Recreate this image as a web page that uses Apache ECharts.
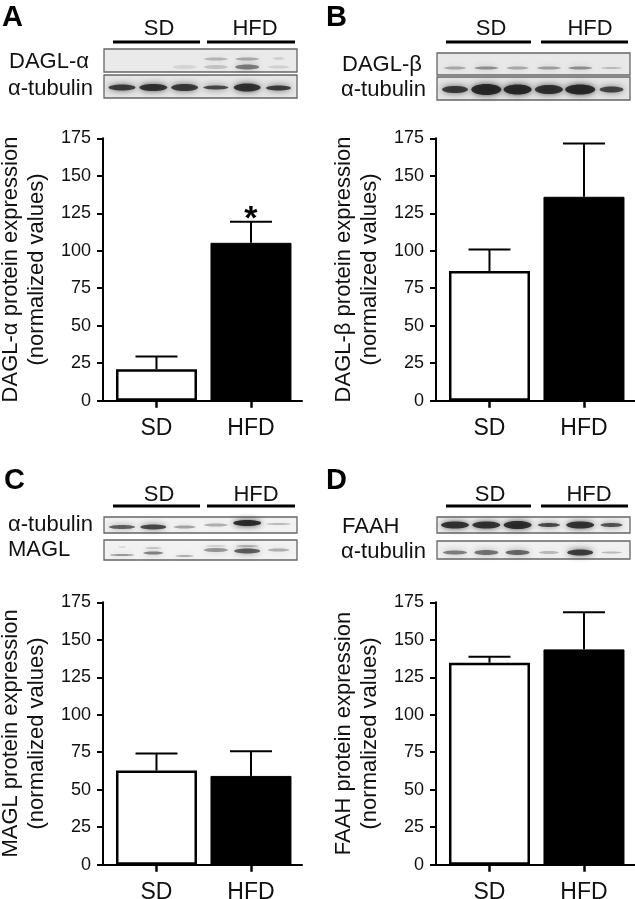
<!DOCTYPE html>
<html>
<head>
<meta charset="utf-8">
<script src="https://cdn.jsdelivr.net/npm/echarts@6/dist/echarts.min.js"></script>
<style>
  html, body { margin: 0; padding: 0; background: #fff; }
  #chart { width: 635px; height: 899px; }
</style>
</head>
<body>
<div id="chart"></div>
<script>
// groups on the x axis
const cats = ['SD', 'HFD'];

// means and SEM (normalized values)
const daglaMean = [21, 105.3];
const daglaErr = [8.4, 14];
const daglaSig = ['', '*'];

const daglbMean = [86.5, 136];
const daglbErr = [14.4, 35.6];
const daglbSig = ['', ''];

const maglMean = [62.8, 59.2];
const maglErr = [11.3, 16.5];
const maglSig = ['', ''];

const faahMean = [134.7, 143.6];
const faahErr = [4, 24.7];
const faahSig = ['', ''];

const FONT = '"Liberation Sans", Arial, Helvetica, sans-serif';

// panel layout: grid left/top, y title
const panels = [
  { left: 103, top: 138.3, title: 'DAGL-α protein expression\n(normalized values)', mean: daglaMean, err: daglaErr, sig: daglaSig },
  { left: 436, top: 138.3, title: 'DAGL-β protein expression\n(normalized values)', mean: daglbMean, err: daglbErr, sig: daglbSig },
  { left: 103, top: 602.3, title: 'MAGL protein expression\n(normalized values)', mean: maglMean, err: maglErr, sig: maglSig },
  { left: 436, top: 602.3, title: 'FAAH protein expression\n(normalized values)', mean: faahMean, err: faahErr, sig: faahSig }
];

// western blot strips (decorative): [lane, dy, opacity, width, height]
const blots = [
  { x: 104, y: 49, h: 23, bg: '#eaeaea', bands: [[2, 6.5, .1, 24, 4], [3, -1.5, .25, 24, 3], [3, 6.5, .18, 24, 4], [4, -1.5, .3, 24, 3], [4, 6.5, .5, 24, 5], [5, -2, .12, 12, 3], [5, 6.5, .12, 22, 3]] },
  { x: 104, y: 75, h: 23, bg: '#e6e6e6', bands: [[0, 1, .8, 27, 6], [1, 1, .85, 28, 7], [2, 1, .8, 27, 7], [3, 1, .75, 25, 4], [4, 1, .85, 27, 8], [5, 1.5, .8, 25, 5]] },
  { x: 437, y: 53, h: 22, bg: '#e8e8e8', bands: [[0, 4, .3, 22, 3], [1, 4, .42, 24, 3], [2, 4, .3, 22, 3], [3, 4, .35, 24, 3], [4, 4, .42, 24, 3], [5, 4, .22, 20, 2]] },
  { x: 437, y: 77, h: 23, bg: '#e4e4e4', bands: [[0, 1, .8, 26, 7], [1, 1, .9, 30, 11], [2, 1, .9, 28, 10], [3, 1, .85, 28, 9], [4, 1, .9, 30, 10], [5, 1, .75, 24, 6]] },
  { x: 104, y: 517, h: 16, bg: '#f2f2f2', bands: [[0, 2, .65, 26, 4], [1, 2, .75, 26, 5], [2, 2, .35, 22, 3], [3, 0, .3, 24, 3], [4, -2, .9, 28, 6], [5, -1, .25, 24, 2]] },
  { x: 104, y: 540, h: 20, bg: '#f2f2f2', bands: [[0, 5, .4, 24, 2], [0, -3, .1, 8, 2], [1, 3, .5, 20, 3], [1, -2, .18, 16, 2], [2, 6, .3, 18, 2], [3, 0, .4, 24, 4], [3, -4, .12, 20, 2], [4, 1, .65, 26, 5], [4, -4, .25, 22, 2], [5, 0, .3, 22, 3]] },
  { x: 437, y: 517, h: 16, bg: '#f0f0f0', bands: [[0, 0, .85, 28, 7], [1, 0, .85, 28, 7], [2, 0, .88, 28, 8], [3, 0, .75, 22, 4], [4, 0, .85, 28, 7], [5, 0, .7, 22, 4]] },
  { x: 437, y: 541, h: 18, bg: '#f0f0f0', bands: [[0, 2.5, .5, 24, 4], [1, 2.5, .55, 24, 5], [2, 2.5, .6, 24, 5], [3, 2.5, .25, 20, 3], [4, 2.5, .8, 26, 6], [5, 2.5, .25, 20, 2]] }
];

const blotLabels = [
  ['DAGL-α', 9, 62], ['α-tubulin', 8, 89],
  ['DAGL-β', 342, 65], ['α-tubulin', 341, 90],
  ['α-tubulin', 8, 525], ['MAGL', 8, 550],
  ['FAAH', 342, 527], ['α-tubulin', 341, 552]
];

const headers = [
  { y: 29, line: 42, sd: 159, hfd: 255, l1: [113, 200], l2: [207, 295] },
  { y: 29, line: 42, sd: 491, hfd: 590, l1: [446, 531], l2: [541, 628] },
  { y: 495, line: 506, sd: 159, hfd: 256, l1: [113, 200], l2: [207, 295] },
  { y: 495, line: 506, sd: 490, hfd: 589, l1: [446, 531], l2: [541, 628] }
];

const letters = [['A', 2, 3], ['B', 326, 3], ['C', 4, 466], ['D', 326, 466]];

let graphics = [];
letters.forEach(l => {
  graphics.push({ type: 'text', x: l[1], y: l[2], style: { text: l[0], font: 'bold 29px ' + FONT, fill: '#000', align: 'left', verticalAlign: 'top' } });
});
headers.forEach(h => {
  graphics.push({ type: 'text', x: h.sd, y: h.y, style: { text: 'SD', font: '22px ' + FONT, fill: '#111', align: 'center', verticalAlign: 'middle' } });
  graphics.push({ type: 'text', x: h.hfd, y: h.y, style: { text: 'HFD', font: '22px ' + FONT, fill: '#111', align: 'center', verticalAlign: 'middle' } });
  graphics.push({ type: 'line', shape: { x1: h.l1[0], y1: h.line, x2: h.l1[1], y2: h.line }, style: { stroke: '#000', lineWidth: 3 } });
  graphics.push({ type: 'line', shape: { x1: h.l2[0], y1: h.line, x2: h.l2[1], y2: h.line }, style: { stroke: '#000', lineWidth: 3 } });
});
blots.forEach(b => {
  graphics.push({ type: 'rect', shape: { x: b.x, y: b.y, width: 193, height: b.h }, style: { fill: b.bg, stroke: '#666', lineWidth: 1.3 } });
  b.bands.forEach(d => {
    let c = 'rgba(30,30,30,' + d[2] + ')';
    graphics.push({
      type: 'ellipse',
      shape: { cx: b.x + 18 + d[0] * 31.3, cy: b.y + b.h / 2 + d[1], rx: d[3] / 2, ry: d[4] / 2 },
      style: { fill: c, shadowBlur: 6, shadowColor: c }
    });
  });
});
blotLabels.forEach(t => {
  graphics.push({ type: 'text', x: t[1], y: t[2], style: { text: t[0], font: '22px ' + FONT, fill: '#111', align: 'left', verticalAlign: 'middle' } });
});

let grids = [], xAxes = [], yAxes = [], series = [];
panels.forEach((p, i) => {
  grids.push({ left: p.left, top: p.top, width: 199, height: 262.4, containLabel: false, outerBoundsMode: 'none' });
  xAxes.push({
    gridIndex: i, type: 'value', min: -0.566, max: 1.54,
    splitLine: { show: false },
    axisLine: { onZero: false, lineStyle: { color: '#000', width: 2 } },
    axisTick: { customValues: [0, 1], length: 7, lineStyle: { color: '#000', width: 2.5 } },
    axisLabel: { customValues: [0, 1], formatter: v => cats[Math.round(v)], fontSize: 23, fontFamily: FONT, color: '#111', margin: 16 }
  });
  yAxes.push({
    gridIndex: i, type: 'value', min: 0, max: 175, interval: 25,
    name: p.title, nameLocation: 'middle', nameRotate: 90, nameGap: 53,
    nameTextStyle: { fontSize: 22, lineHeight: 26, fontFamily: FONT, color: '#111' },
    splitLine: { show: false },
    axisLine: { show: true, onZero: false, lineStyle: { color: '#000', width: 2 } },
    axisTick: { show: true, length: 6, lineStyle: { color: '#000', width: 2 } },
    axisLabel: { fontSize: 18, fontFamily: FONT, color: '#111', margin: 12 }
  });
  series.push({
    type: 'bar', xAxisIndex: i, yAxisIndex: i, barWidth: 81,
    data: p.mean.map((m, j) => ({
      value: [j, m],
      itemStyle: j === 0 ? { color: '#fff', borderColor: '#000', borderWidth: 2.5 } : { color: '#000', borderColor: '#000', borderWidth: 1 }
    })),
    animation: false, z: 2
  });
  series.push({
    type: 'custom', xAxisIndex: i, yAxisIndex: i, z: 3,
    data: p.mean.map((m, j) => [j, m, p.err[j]]),
    renderItem: (params, api) => {
      const x = api.value(0), m = api.value(1), e = api.value(2);
      const base = api.coord([x, m]);
      const top = api.coord([x, m + e]);
      const kids = [
        { type: 'line', shape: { x1: base[0], y1: base[1], x2: top[0], y2: top[1] }, style: { stroke: '#000', lineWidth: 2 } },
        { type: 'line', shape: { x1: top[0] - 21, y1: top[1], x2: top[0] + 21, y2: top[1] }, style: { stroke: '#000', lineWidth: 2 } }
      ];
      const s = p.sig[params.dataIndex];
      if (s) {
        kids.push({ type: 'text', x: top[0], y: top[1] - 2, style: { text: s, font: 'bold 34px ' + FONT, fill: '#000', align: 'center', verticalAlign: 'middle' } });
      }
      return { type: 'group', children: kids };
    },
    animation: false
  });
});

const chart = echarts.init(document.getElementById('chart'));
chart.setOption({
  backgroundColor: '#fff',
  animation: false,
  grid: grids,
  xAxis: xAxes,
  yAxis: yAxes,
  series: series,
  graphic: graphics
});
</script>
</body>
</html>
